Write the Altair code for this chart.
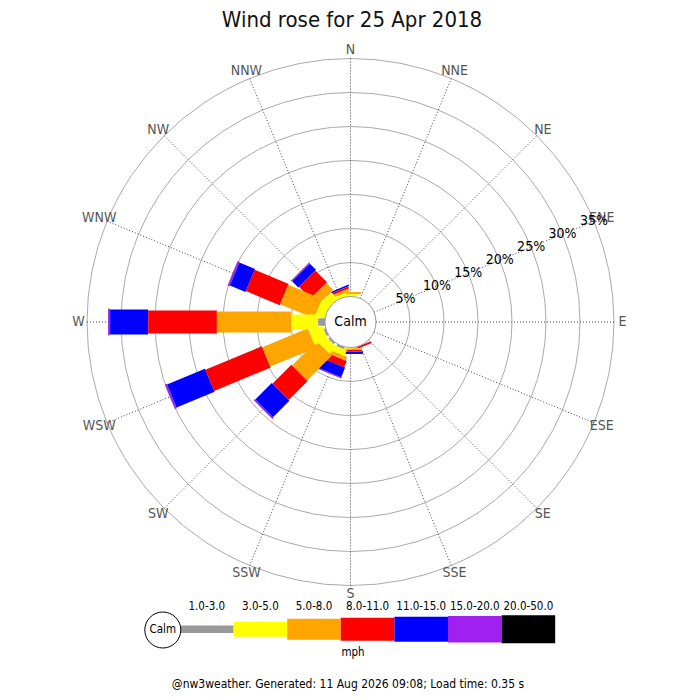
import altair as alt
import pandas as pd

# ---------------- data ----------------
directions = ["N", "NNE", "NE", "ENE", "E", "ESE", "SE", "SSE",
              "S", "SSW", "SW", "WSW", "W", "WNW", "NW", "NNW"]
speed_bins = ["1.0-3.0", "3.0-5.0", "5.0-8.0", "8.0-11.0",
              "11.0-15.0", "15.0-20.0", "20.0-50.0"]
bin_colors = ["#999999", "#ffff00", "#ffa500", "#ff0000",
              "#0000ff", "#a020f0", "#000000"]

# percent of observations per direction (N ... NNW) in each speed bin
pct_1_3   = [0, 0, 0, 0, 0, 0, 0, 0, 0, 0.3, 0.3, 0.3, 1.0, 0, 0, 0]
pct_3_5   = [0.35, 0, 0, 0, 0, 0, 0, 0, 0.15, 0.9, 1.4, 2.1, 4.0, 1.4, 1.4, 0.5]
pct_5_8   = [0.3, 0, 0, 0, 0, 0, 0, 0, 0.2, 0.55, 5.15, 7.25, 10.9, 5.4, 1.43, 0.4]
pct_8_11  = [0, 0, 0, 0, 0, 0, 0, 0.3, 0.25, 1.0, 3.95, 9.0, 10.1, 5.4, 2.44, 0.3]
pct_11_15 = [0, 0, 0, 0, 0, 0, 0, 0, 0.35, 1.53, 3.4, 6.05, 5.6, 2.5, 1.28, 0.24]
pct_15_20 = [0, 0, 0, 0, 0, 0, 0, 0, 0, 0.17, 0.25, 0.3, 0.3, 0.3, 0.2, 0]
pct_20_50 = [0, 0, 0, 0, 0, 0, 0, 0, 0, 0, 0, 0, 0, 0, 0, 0]

ring_pcts = [5, 10, 15, 20, 25, 30, 35]

title_text = "Wind rose for 25 Apr 2018"
footer_text = "@nw3weather. Generated: 11 Aug 2026 09:08; Load time: 0.35 s"
unit_text = "mph"
calm_text = "Calm"

# ---------------- layout / style ----------------
W = H = 684
K = 6.8                 # pixels per percent
CX, CY = 342.5, 314.0   # rose centre in chart pixels
CALM = 3.75             # calm circle radius (percent units)
LABEL_R = 40.0          # compass label radius (percent units)
bar_widths = [7.5, 15, 21, 23, 25, 26.5, 28]
FONT = "DejaVu Sans Condensed, DejaVu Sans"

# legend geometry (chart pixels)
LX0, LSTEP, LY = 172.0, 53.6, 621.2
LLABEL_Y = 599.0
LCALM_X, LCALM_Y, LCALM_R = 154.8, 622.0, 18.0

xs = alt.Scale(domain=[-CX / K, (W - CX) / K], nice=False, zero=False)
ys = alt.Scale(domain=[-(H - CY) / K, CY / K], nice=False, zero=False)
rs = alt.Scale(type="linear", domain=[0, 50], range=[0, 50 * K], zero=True, nice=False)
cs = alt.Scale(domain=speed_bins, range=bin_colors)
width_expr = "[" + ",".join(str(w) for w in bar_widths) + "][datum.b]"

def X(f):
    return alt.X(f, scale=xs, axis=None)

def Y(f):
    return alt.Y(f, scale=ys, axis=None)

def R(f):
    return alt.Radius(f, scale=rs, stack=False)

# ---------------- tables ----------------
series = [pct_1_3, pct_3_5, pct_5_8, pct_8_11, pct_11_15, pct_15_20, pct_20_50]
rows = []
for b, vals in enumerate(series):
    for d, v in enumerate(vals):
        rows.append({"dir": directions[d], "d": d, "bin": speed_bins[b], "b": b, "pct": v})
bars = pd.DataFrame(rows).sort_values(["d", "b"])
bars["end"] = bars.groupby("d")["pct"].cumsum()
bars["start"] = bars["end"] - bars["pct"]
bars = bars[bars["pct"] > 0].sort_values(["b", "d"], ascending=[False, True])

rings = pd.DataFrame({"pct": ring_pcts})
spokes = pd.DataFrame({"dir": directions, "d": list(range(len(directions)))})
legend_df = pd.DataFrame({"bin": speed_bins, "b": list(range(len(speed_bins)))})
calm_df = pd.DataFrame({"t": [calm_text]})

# ---------------- layers ----------------
ring_layer = alt.Chart(rings).transform_calculate(
    rr=f"{CALM} + datum.pct", z="0"
).mark_arc(filled=False, stroke="#aaaaaa", strokeWidth=1, theta=0, theta2=6.2832).encode(
    x=X("z:Q"), y=Y("z:Q"), radius=R("rr:Q"),
)

spoke_layer = alt.Chart(spokes).transform_calculate(
    a="datum.d * PI / 8",
).transform_calculate(
    x0=f"{CALM} * sin(datum.a)", y0=f"{CALM} * cos(datum.a)",
    x1=f"{CALM + max(ring_pcts)} * sin(datum.a)", y1=f"{CALM + max(ring_pcts)} * cos(datum.a)",
).mark_rule(stroke="#444444", strokeWidth=1, strokeDash=[1, 2]).encode(
    x=X("x0:Q"), y=Y("y0:Q"), x2="x1:Q", y2="y1:Q"
)

bar_layer = alt.Chart(bars).transform_calculate(
    a="datum.d * PI / 8",
    r0=f"{CALM} + datum.start",
    r1=f"{CALM} + datum.end",
    w=width_expr,
).transform_calculate(
    x0="datum.r0 * sin(datum.a)", y0="datum.r0 * cos(datum.a)",
    x1="datum.r1 * sin(datum.a)", y1="datum.r1 * cos(datum.a)",
).mark_rule(strokeCap="butt").encode(
    x=X("x0:Q"), y=Y("y0:Q"), x2="x1:Q", y2="y1:Q",
    color=alt.Color("bin:N", scale=cs, legend=None),
    strokeWidth=alt.StrokeWidth("w:Q", scale=None),
)

calm_circle = alt.Chart(calm_df).transform_calculate(rr=f"{CALM}", z="0").mark_arc(
    fill="white", stroke="#999999", strokeWidth=1, theta=0, theta2=6.2832
).encode(x=X("z:Q"), y=Y("z:Q"), radius=R("rr:Q"))

calm_label = alt.Chart(calm_df).transform_calculate(z="0").mark_text(
    font=FONT, fontSize=14, color="black", baseline="middle", align="center"
).encode(x=X("z:Q"), y=Y("z:Q"), text="t:N")

compass = alt.Chart(spokes).transform_calculate(
    a="datum.d * PI / 8",
).transform_calculate(
    x0=f"{LABEL_R} * sin(datum.a)", y0=f"{LABEL_R} * cos(datum.a)"
).mark_text(font=FONT, fontSize=14, color="#555555", baseline="middle", align="center").encode(
    x=X("x0:Q"), y=Y("y0:Q"), text="dir:N"
)

pct_labels = alt.Chart(rings).transform_calculate(
    lab="datum.pct + '%'",
    x0=f"({CALM} + datum.pct) * sin(3 * PI / 8)",
    y0=f"({CALM} + datum.pct) * cos(3 * PI / 8)",
).mark_text(font=FONT, fontSize=14, color="black", baseline="middle", align="center").encode(
    x=X("x0:Q"), y=Y("y0:Q"), text="lab:N"
)

# legend
leg_bars = alt.Chart(legend_df).transform_calculate(
    lx0=f"({LX0} + {LSTEP} * datum.b - {CX}) / {K}",
    lx1=f"({LX0} + {LSTEP} * (datum.b + 1) - {CX}) / {K}",
    ly=f"({CY} - {LY}) / {K}",
    w=width_expr,
).mark_rule(strokeCap="butt").encode(
    x=X("lx0:Q"), x2="lx1:Q", y=Y("ly:Q"),
    color=alt.Color("bin:N", scale=cs, legend=None),
    strokeWidth=alt.StrokeWidth("w:Q", scale=None),
)

leg_labels = alt.Chart(legend_df).transform_calculate(
    lx=f"({LX0} + {LSTEP} * (datum.b + 0.5) - {CX}) / {K}",
    ly=f"({CY} - {LLABEL_Y}) / {K}",
).mark_text(font=FONT, fontSize=11.5, color="black", baseline="middle", align="center").encode(
    x=X("lx:Q"), y=Y("ly:Q"), text="bin:N"
)

leg_calm = alt.Chart(calm_df).transform_calculate(
    lx=f"({LCALM_X} - {CX}) / {K}", ly=f"({CY} - {LCALM_Y}) / {K}", rr=f"{LCALM_R} / {K}"
).mark_arc(fill="white", stroke="black", strokeWidth=1, theta=0, theta2=6.2832).encode(
    x=X("lx:Q"), y=Y("ly:Q"), radius=R("rr:Q")
)

leg_calm_text = alt.Chart(calm_df).transform_calculate(
    lx=f"({LCALM_X} - {CX}) / {K}", ly=f"({CY} - {LCALM_Y}) / {K}"
).mark_text(font=FONT, fontSize=11.5, color="black", baseline="middle", align="center").encode(
    x=X("lx:Q"), y=Y("ly:Q"), text="t:N"
)

title_layer = alt.Chart(pd.DataFrame({"t": [title_text]})).mark_text(
    font=FONT, fontSize=22, color="#111111", baseline="alphabetic", align="center"
).encode(x=alt.value(344), y=alt.value(18.7), text="t:N")

unit_layer = alt.Chart(pd.DataFrame({"t": [unit_text]})).mark_text(
    font=FONT, fontSize=11.5, color="black", baseline="middle", align="center"
).encode(x=alt.value(345), y=alt.value(645), text="t:N")

footer_layer = alt.Chart(pd.DataFrame({"t": [footer_text]})).mark_text(
    font=FONT, fontSize=12, color="black", baseline="middle", align="center"
).encode(x=alt.value(340), y=alt.value(676), text="t:N")

chart = alt.layer(
    ring_layer, spoke_layer, bar_layer, calm_circle, calm_label, compass, pct_labels,
    leg_bars, leg_labels, leg_calm, leg_calm_text, title_layer, unit_layer, footer_layer
).properties(
    width=W, height=H, padding=0, autosize=alt.AutoSizeParams(type="none")
).configure_view(stroke=None)

chart.save("out.html", embed_options={"renderer": "svg", "actions": False})
